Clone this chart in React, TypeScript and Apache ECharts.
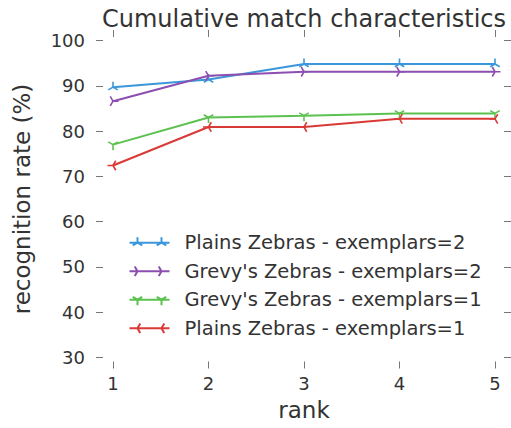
import React, { useEffect, useRef } from "react";
import * as echarts from "echarts";

const ranks = [1, 2, 3, 4, 5];
const seriesNames = [
  "Plains Zebras - exemplars=2",
  "Grevy's Zebras - exemplars=2",
  "Grevy's Zebras - exemplars=1",
  "Plains Zebras - exemplars=1",
];
const plains2 = [89.7, 91.4, 94.8, 94.8, 94.8];
const grevys2 = [86.6, 92.2, 93.1, 93.1, 93.1];
const grevys1 = [77.0, 83.0, 83.4, 83.9, 83.9];
const plains1 = [72.4, 80.9, 80.9, 82.7, 82.7];
const seriesValues = [plains2, grevys2, grevys1, plains1];
const colors = ["#3b97d9", "#8c4fb1", "#5cc24f", "#da3a36"];
// matplotlib tri markers: tri_up, tri_right, tri_down, tri_left (arm angles, screen coords)
const markerAngles = [
  [-90, 30, 150],
  [0, 120, 240],
  [90, -30, -150],
  [180, -60, 60],
];

const FONT = "DejaVu Sans";
const TEXT = "#333333";
const TICK = "#777777";
const R = 5.5;

const f = (n: number) => n.toFixed(2);
function armPath(angles: number[], cx: number, cy: number, r: number) {
  return angles
    .map((a) => {
      const t = (a * Math.PI) / 180;
      return `M${f(cx)},${f(cy)}L${f(cx + r * Math.cos(t))},${f(cy + r * Math.sin(t))}`;
    })
    .join("");
}
function symbolPath(angles: number[]) {
  return `path://M${-R},${-R}L${-R},${-R}M${R},${R}L${R},${R}` + armPath(angles, 0, 0, R);
}
function legendIcon(angles: number[]) {
  return (
    "path://M0,0L0,0M50,14L50,14M0,7L40,7" +
    armPath(angles, 8, 7, R) +
    armPath(angles, 32, 7, R)
  );
}

const tickAxis = (extra: any) => ({
  type: "value",
  axisLine: { show: false, onZero: false },
  axisTick: { show: true, inside: false, length: 7, lineStyle: { color: TICK, width: 1 } },
  splitLine: { show: false },
  ...extra,
});

export default function App() {
  const ref = useRef<HTMLDivElement>(null);
  useEffect(() => {
    const chart = echarts.init(ref.current!, null, { renderer: "svg" });
    chart.setOption({
      animation: false,
      backgroundColor: "#ffffff",
      title: {
        text: "Cumulative match characteristics",
        left: 304,
        top: 7,
        padding: 0,
        textAlign: "center",
        textStyle: { fontFamily: FONT, fontSize: 24, fontWeight: "normal", color: TEXT },
      },
      grid: { left: 113, right: 16, top: 40.5, bottom: 70.5, containLabel: false },
      xAxis: [
        tickAxis({
          min: 1,
          max: 5,
          interval: 1,
          position: "bottom",
          offset: 4,
          axisLabel: { margin: 13, fontSize: 18, color: TEXT, fontFamily: FONT },
          name: "rank",
          nameLocation: "middle",
          nameGap: 37,
          nameTextStyle: { fontSize: 23, color: TEXT, fontFamily: FONT },
        }),
        tickAxis({
          min: 1,
          max: 5,
          interval: 1,
          position: "top",
          offset: 3.5,
          axisLabel: { show: false },
        }),
      ],
      yAxis: [
        tickAxis({
          min: 30,
          max: 100,
          interval: 10,
          position: "left",
          offset: 10,
          axisLabel: { margin: 18, fontSize: 18, color: TEXT, fontFamily: FONT },
          name: "recognition rate (%)",
          nameLocation: "middle",
          nameGap: 70,
          nameTextStyle: { fontSize: 23, color: TEXT, fontFamily: FONT },
        }),
        tickAxis({
          min: 30,
          max: 100,
          interval: 10,
          position: "right",
          offset: 9,
          axisLabel: { show: false },
        }),
      ],
      legend: {
        orient: "vertical",
        left: 127,
        top: 232.7,
        padding: 0,
        itemWidth: 50,
        itemHeight: 14,
        itemGap: 8.5,
        selectedMode: false,
        textStyle: { fontFamily: FONT, fontSize: 19.5, color: TEXT, lineHeight: 20 },
        data: seriesNames.map((n, i) => ({
          name: n,
          icon: legendIcon(markerAngles[i]),
          itemStyle: { color: "none", borderColor: colors[i], borderWidth: 2 },
        })),
      },
      series: seriesNames.map((n, i) => ({
        name: n,
        type: "line",
        xAxisIndex: 0,
        yAxisIndex: 0,
        data: ranks.map((r, j) => [r, seriesValues[i][j]]),
        symbol: symbolPath(markerAngles[i]),
        symbolSize: 2 * R,
        symbolKeepAspect: true,
        lineStyle: { color: colors[i], width: 2 },
        itemStyle: { color: "none", borderColor: colors[i], borderWidth: 1.6 },
        emphasis: { disabled: true },
      })),
    });
    return () => chart.dispose();
  }, []);
  return (
    <div
      ref={ref}
      style={{ position: "fixed", left: 0, top: 0, width: 511, height: 428, background: "#fff" }}
    />
  );
}
